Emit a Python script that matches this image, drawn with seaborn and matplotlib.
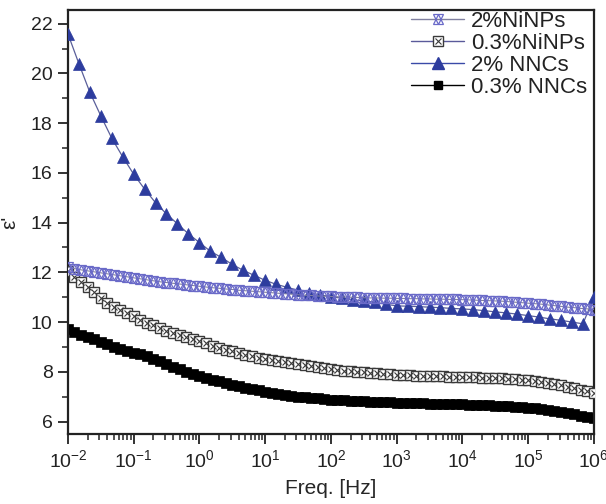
import numpy as np
import pandas as pd
import matplotlib
matplotlib.use("Agg")
import matplotlib.pyplot as plt
import seaborn as sns
from matplotlib.legend_handler import HandlerTuple
from matplotlib.lines import Line2D
from matplotlib.ticker import LogLocator, MultipleLocator, NullFormatter

# ---- data ----
# dense series: 10 points per decade, 1e-2 .. 1e6
log_f_dense = np.round(np.arange(-2.0, 6.0001, 0.1), 2)
# sparse series (2% NNCs): 6 points per decade
log_f_sparse = np.round(np.arange(0, 49) / 6.0 - 2.0, 4)

eps_2_NiNPs = [
    12.2, 12.15, 12.1, 12.06, 12.02, 11.98, 11.94, 11.9, 11.86, 11.82,
    11.78, 11.74, 11.7, 11.66, 11.62, 11.59, 11.56, 11.53, 11.5, 11.47,
    11.44, 11.41, 11.38, 11.36, 11.33, 11.31, 11.28, 11.26, 11.24, 11.22,
    11.2, 11.18, 11.16, 11.14, 11.12, 11.1, 11.08, 11.07, 11.05, 11.04,
    11.03, 11.02, 11.01, 11.0, 10.99, 10.98, 10.97, 10.97, 10.96, 10.96,
    10.95, 10.95, 10.94, 10.94, 10.93, 10.93, 10.92, 10.92, 10.91, 10.91,
    10.9, 10.89, 10.88, 10.87, 10.86, 10.85, 10.84, 10.82, 10.8, 10.78,
    10.76, 10.74, 10.72, 10.69, 10.66, 10.63, 10.6, 10.58, 10.55, 10.53,
    10.5]

eps_03_NiNPs = [
    12.05, 11.8, 11.6, 11.4, 11.2, 10.95, 10.78, 10.62, 10.48, 10.35,
    10.23, 10.1, 9.98, 9.87, 9.76, 9.65, 9.55, 9.46, 9.38, 9.3,
    9.23, 9.14, 9.05, 8.97, 8.89, 8.82, 8.75, 8.68, 8.62, 8.56,
    8.5, 8.46, 8.42, 8.38, 8.34, 8.3, 8.26, 8.22, 8.18, 8.14,
    8.1, 8.08, 8.05, 8.03, 8.0, 7.98, 7.96, 7.94, 7.92, 7.9,
    7.88, 7.87, 7.86, 7.85, 7.84, 7.83, 7.83, 7.82, 7.81, 7.81,
    7.8, 7.79, 7.78, 7.77, 7.76, 7.75, 7.74, 7.72, 7.71, 7.69,
    7.66, 7.63, 7.6, 7.56, 7.51, 7.45, 7.4, 7.34, 7.28, 7.22,
    7.15]

eps_03_NNCs = [
    9.72, 9.6, 9.5, 9.4, 9.3, 9.2, 9.1, 9.0, 8.9, 8.82,
    8.76, 8.72, 8.62, 8.52, 8.42, 8.3, 8.2, 8.1, 8.01, 7.93,
    7.85, 7.77, 7.69, 7.62, 7.55, 7.48, 7.42, 7.36, 7.3, 7.25,
    7.2, 7.16, 7.12, 7.08, 7.04, 7.0, 6.98, 6.95, 6.93, 6.9,
    6.88, 6.86, 6.85, 6.84, 6.82, 6.81, 6.8, 6.79, 6.78, 6.77,
    6.76, 6.75, 6.75, 6.74, 6.73, 6.72, 6.72, 6.71, 6.7, 6.7,
    6.69, 6.68, 6.67, 6.66, 6.65, 6.64, 6.63, 6.61, 6.6, 6.58,
    6.56, 6.53, 6.5, 6.46, 6.42, 6.37, 6.33, 6.29, 6.24, 6.2,
    6.15]

eps_2_NNCs = [
    21.6, 20.4, 19.25, 18.3, 17.4, 16.65, 15.95, 15.35, 14.8, 14.35,
    13.95, 13.55, 13.2, 12.85, 12.6, 12.32, 12.08, 11.88, 11.68, 11.52,
    11.4, 11.28, 11.18, 11.1, 11.02, 10.96, 10.9, 10.85, 10.8, 10.72,
    10.65, 10.64, 10.62, 10.6, 10.58, 10.55, 10.53, 10.5, 10.46, 10.41,
    10.37, 10.32, 10.26, 10.2, 10.13, 10.07, 10.0, 9.93, 11.0]

labels = ["2%NiNPs", "0.3%NiNPs", "2% NNCs", "0.3% NNCs"]
xticks_exp = [-2, -1, 0, 1, 2, 3, 4, 5, 6]
yticks = [6, 8, 10, 12, 14, 16, 18, 20, 22]

df_dense = pd.DataFrame({"freq": 10.0 ** log_f_dense,
                         "e2Ni": eps_2_NiNPs, "e03Ni": eps_03_NiNPs,
                         "e03NNC": eps_03_NNCs})
df_sparse = pd.DataFrame({"freq": 10.0 ** log_f_sparse, "e2NNC": eps_2_NNCs})

# ---- style ----
sns.set_style("ticks")
plt.rcParams["font.family"] = ["Liberation Sans", "DejaVu Sans"]
plt.rcParams["mathtext.fontset"] = "custom"
plt.rcParams["mathtext.rm"] = "Liberation Sans"
plt.rcParams["mathtext.it"] = "Liberation Sans:italic"
plt.rcParams["mathtext.bf"] = "Liberation Sans:bold"

fig = plt.figure(figsize=(6.06, 5.04), dpi=100)
ax = fig.add_axes([0.112, 0.139, 0.868, 0.841])

c_tri = "#2d3c9e"
c_ni2 = "#6a6ac8"
c_ni03 = "#3a3a3a"

# 0.3% NNCs (black squares)
sns.lineplot(data=df_dense, x="freq", y="e03NNC", ax=ax, color="black",
             lw=1.0, marker="s", markersize=7, markeredgecolor="black",
             markerfacecolor="black", markeredgewidth=0.5, zorder=2)
# 0.3% NiNPs (boxed x)
sns.lineplot(data=df_dense, x="freq", y="e03Ni", ax=ax, color="#5a5a9a",
             lw=0.8, marker="s", markersize=6.5, markerfacecolor="white",
             markeredgecolor=c_ni03, markeredgewidth=1.0, zorder=3)
sns.lineplot(data=df_dense, x="freq", y="e03Ni", ax=ax, color=c_ni03,
             lw=0, marker="x", markersize=4.5, markeredgecolor=c_ni03,
             markeredgewidth=0.8, zorder=3)
# 2% NNCs (filled triangles)
sns.lineplot(data=df_sparse, x="freq", y="e2NNC", ax=ax, color="#5a5f9a",
             lw=0.9, marker="^", markersize=8.5, markerfacecolor=c_tri,
             markeredgecolor=c_tri, markeredgewidth=0.5, zorder=4)
# 2% NiNPs (open star of triangles)
sns.lineplot(data=df_dense, x="freq", y="e2Ni", ax=ax, color="#8080a0",
             lw=0.8, marker="^", markersize=7, markerfacecolor="none",
             markeredgecolor=c_ni2, markeredgewidth=0.9, zorder=5)
sns.lineplot(data=df_dense, x="freq", y="e2Ni", ax=ax, color=c_ni2,
             lw=0, marker="v", markersize=7, markerfacecolor="none",
             markeredgecolor=c_ni2, markeredgewidth=0.9, zorder=5)

ax.set_xscale("log")
ax.set_xlim(10.0 ** -2, 10.0 ** 6)
ax.set_ylim(5.5, 22.55)
ax.set_xticks([10.0 ** e for e in xticks_exp])
ax.set_xticklabels([r"$\mathregular{10^{%d}}$" % e for e in xticks_exp])
ax.xaxis.set_minor_locator(LogLocator(base=10, subs=np.arange(2, 10), numticks=100))
ax.xaxis.set_minor_formatter(NullFormatter())
ax.set_yticks(yticks)
ax.yaxis.set_minor_locator(MultipleLocator(1))

for s in ax.spines.values():
    s.set_linewidth(1.6)
    s.set_color("#222222")
ax.tick_params(axis="both", which="major", direction="out", length=7, width=1.3,
               labelsize=14, colors="#222222", pad=4)
ax.tick_params(axis="both", which="minor", direction="out", length=4, width=1.1,
               colors="#222222")
ax.tick_params(top=False, right=False, which="both")

ax.set_xlabel("Freq. [Hz]", fontsize=15, labelpad=6)
ax.set_ylabel("ε'", fontsize=15, labelpad=8)

# legend
h_ni2a = Line2D([], [], color="#8080a0", lw=1.0, marker="^", markersize=7,
                markerfacecolor="none", markeredgecolor=c_ni2, markeredgewidth=0.9)
h_ni2b = Line2D([], [], color="#8080a0", lw=0, marker="v", markersize=7,
                markerfacecolor="none", markeredgecolor=c_ni2, markeredgewidth=0.9)
h_ni03a = Line2D([], [], color="#5a5a9a", lw=1.0, marker="s", markersize=6.5,
                 markerfacecolor="white", markeredgecolor=c_ni03, markeredgewidth=1.0)
h_ni03b = Line2D([], [], color=c_ni03, lw=0, marker="x", markersize=4.5,
                 markeredgecolor=c_ni03, markeredgewidth=0.8)
h_tri = Line2D([], [], color="#3a4aa8", lw=1.0, marker="^", markersize=8.5,
               markerfacecolor=c_tri, markeredgecolor=c_tri)
h_sq = Line2D([], [], color="black", lw=1.0, marker="s", markersize=6,
              markerfacecolor="black", markeredgecolor="black")
leg = ax.legend([(h_ni2a, h_ni2b), (h_ni03a, h_ni03b), h_tri, h_sq], labels,
                handler_map={tuple: HandlerTuple(ndivide=1, pad=0)},
                loc="upper right", bbox_to_anchor=(1.017, 1.035), frameon=False,
                fontsize=16, handlelength=2.4, handletextpad=0.3,
                labelspacing=0.05, borderaxespad=0.3)
for t in leg.get_texts():
    t.set_color("#222222")

fig.savefig("out.png", dpi=100)
